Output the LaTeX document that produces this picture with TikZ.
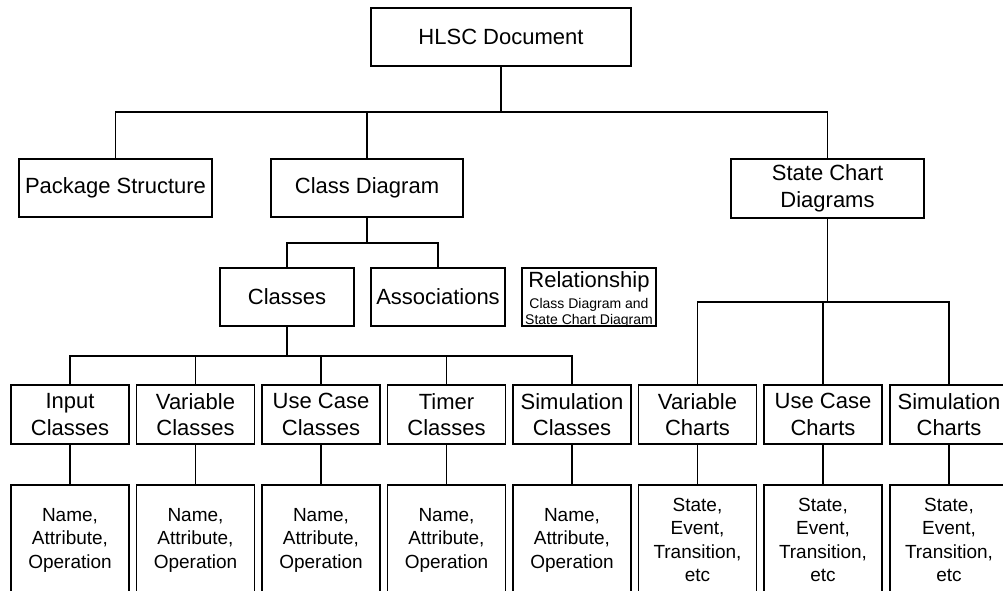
\documentclass[tikz,border=0pt]{standalone}
\usepackage{fontspec}
\setmainfont{Liberation Sans}
\begin{document}
\begin{tikzpicture}[x=1pt,y=-1pt,
  box/.style={draw, line width=1.2pt, inner sep=0pt, align=center, font=\fontsize{22}{26.5}\selectfont},
  midbox/.style={box, minimum width=118pt, minimum height=59pt},
  leafbox/.style={box, minimum width=118pt, minimum height=110pt, font=\fontsize{19}{23.5}\selectfont},
  conn/.style={line width=1.2pt},
  heavy/.style={line width=2pt},
  plain/.style={inner sep=0pt, anchor=base}]
\clip (0,0) rectangle (1003,591);
% level 1
\node[box, minimum width=260pt, minimum height=58pt] (doc) at (501,37) {HLSC Document};
% level 2
\node[box, minimum width=193pt, minimum height=58pt] (pkg) at (115.5,188) {Package Structure};
\node[box, minimum width=192pt, minimum height=58pt] (cls) at (367,188) {Class Diagram};
\node[box, minimum width=193pt, minimum height=59pt] (sc) at (827.5,188.5) {State Chart\\Diagrams};
% level 3
\node[box, minimum width=134pt, minimum height=58pt] (classes) at (287,297) {Classes};
\node[box, minimum width=134pt, minimum height=58pt] (assoc) at (438,297) {Associations};
\node[box, minimum width=134pt, minimum height=58pt] (rel) at (589,297) {};
\node[plain, font=\fontsize{22}{24}\selectfont] (relA) at (589,287) {Relationship};
\node[plain, font=\fontsize{14}{16}\selectfont] (relB) at (589,308) {Class Diagram and};
\node[plain, font=\fontsize{14}{16}\selectfont] (relC) at (589,324) {State Chart Diagram};
% level 4
\node[midbox] (ic) at (70,414.5) {Input\\Classes};
\node[midbox] (vc) at (195.5,414.5) {Variable\\Classes};
\node[midbox] (uc) at (321,414.5) {Use Case\\Classes};
\node[midbox] (tc) at (446.5,414.5) {Timer\\Classes};
\node[midbox] (sic) at (572,414.5) {Simulation\\Classes};
\node[midbox] (vch) at (697.5,414.5) {Variable\\Charts};
\node[midbox] (uch) at (823,414.5) {Use Case\\Charts};
\node[midbox] (sch) at (949,414.5) {Simulation\\Charts};
% level 5
\node[leafbox] (ic5) at (70,540) {Name,\\Attribute,\\Operation};
\node[leafbox] (vc5) at (195.5,540) {Name,\\Attribute,\\Operation};
\node[leafbox] (uc5) at (321,540) {Name,\\Attribute,\\Operation};
\node[leafbox] (tc5) at (446.5,540) {Name,\\Attribute,\\Operation};
\node[leafbox] (sic5) at (572,540) {Name,\\Attribute,\\Operation};
\node[leafbox] (vch5) at (697.5,540) {State,\\Event,\\Transition,\\etc};
\node[leafbox] (uch5) at (823,540) {State,\\Event,\\Transition,\\etc};
\node[leafbox] (sch5) at (949,540) {State,\\Event,\\Transition,\\etc};
% junctions
\coordinate (j1) at (501,112);
\coordinate (j2) at (367,243);
\coordinate (j3) at (287,356);
\coordinate (j4) at (827.5,302);
% connectors
\draw[heavy] (doc.south) -- (j1);
\draw[conn] (pkg.north) |- (j1);
\draw[conn] (sc.north) |- (j1);
\draw[conn] (cls.north) -- (cls.north |- j1);
\draw[heavy] (cls.south) -- (j2);
\draw[conn] (classes.north) |- (j2);
\draw[conn] (assoc.north) |- (j2);
\draw[heavy] (classes.south) -- (j3);
\draw[heavy] (ic.north) |- (j3);
\draw[heavy] (sic.north) |- (j3);
\draw[conn] (vc.north) -- (vc.north |- j3);
\draw[conn] (uc.north) -- (uc.north |- j3);
\draw[conn] (tc.north) -- (tc.north |- j3);
\draw[conn] (sc.south) -- (j4);
\draw[conn] (vch.north) |- (j4);
\draw[conn] (sch.north) |- (j4);
\draw[conn] (uch.north) -- (uch.north |- j4);
\draw[conn] (ic.south) -- (ic5.north);
\draw[conn] (vc.south) -- (vc5.north);
\draw[conn] (uc.south) -- (uc5.north);
\draw[conn] (tc.south) -- (tc5.north);
\draw[conn] (sic.south) -- (sic5.north);
\draw[conn] (vch.south) -- (vch5.north);
\draw[conn] (uch.south) -- (uch5.north);
\draw[conn] (sch.south) -- (sch5.north);
\end{tikzpicture}
\end{document}
